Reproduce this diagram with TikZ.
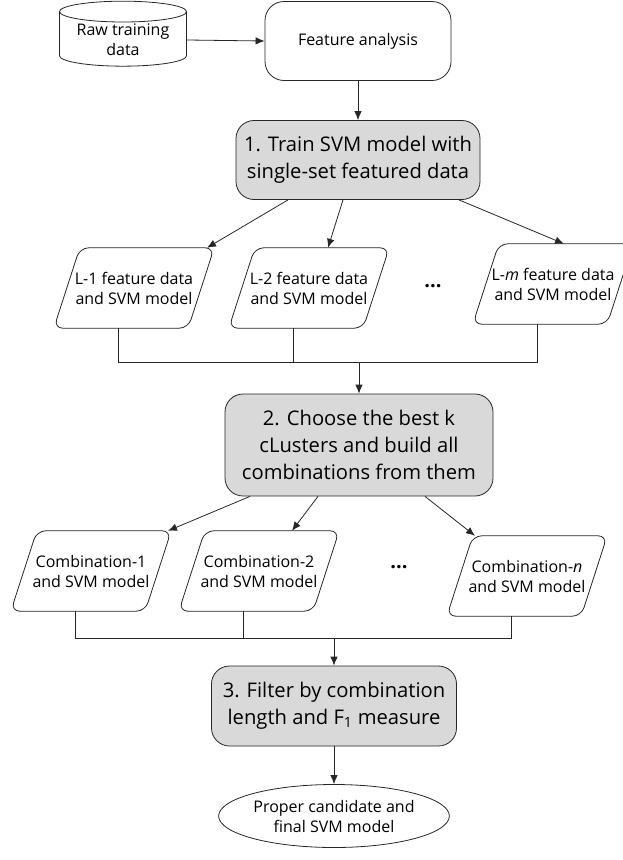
\documentclass[tikz,border=0pt]{standalone}
\usepackage{fontspec}
\setmainfont{Open Sans}
\usepackage{tikz}
\usetikzlibrary{calc}
\usetikzlibrary{arrows.meta}
\usetikzlibrary{shapes.geometric}
\tikzset{
  base/.style={draw=black!85, line width=0.8pt, align=center, inner sep=1pt, font=\fontsize{16}{20}\selectfont},
  store/.style={base, cylinder, shape border rotate=90, aspect=0.22, minimum width=127pt, minimum height=65pt},
  roundbox/.style={base, rectangle, rounded corners=19pt, minimum width=186pt, minimum height=79pt},
  stepbox/.style={base, rectangle, rounded corners=18pt, fill=gray!30, font=\fontsize{20.2}{27}\selectfont},
  databox/.style={align=center, inner sep=0pt, font=\fontsize{16}{20}\selectfont, minimum width=134pt, minimum height=80pt},
  finalbox/.style={base, ellipse, minimum width=215pt, minimum height=63pt},
  dotsnode/.style={font=\bfseries\fontsize{20}{20}\selectfont},
  link/.style={draw=black!85, line width=0.8pt}
}

\begin{document}
\begin{tikzpicture}[x=1pt, y=-1pt, >={Latex[length=9pt,width=7.5pt]}]
  \useasboundingbox (0,0) rectangle (623,860);
  \node [store] (raw) at (123,40) {Raw training\\data};
  \node [roundbox] (feat) at (358,41) {Feature analysis};
  \node [stepbox, minimum width=244pt, minimum height=79pt] (train) at (358,160) {1. Train SVM model with\\single-set featured data};
  \node [databox] (l1) at (134,288) {L-1 feature data\\and SVM model};
  \node [databox] (l2) at (309,288) {L-2 feature data\\and SVM model};
  \node [dotsnode] (dotsa) at (433,286) {...};
  \node [databox] (lm) at (553,284) {L-\textit{m} feature data\\and SVM model};
  \node [stepbox, minimum width=268pt, minimum height=102pt] (choose) at (359,445) {2. Choose the best k\\cLusters and build all\\combinations from them};
  \node [databox] (c1) at (91,571) {Combination-1\\and SVM model};
  \node [databox] (c2) at (259,571) {Combination-2\\and SVM model};
  \node [dotsnode] (dotsb) at (399,567) {...};
  \node [databox] (cn) at (527,576) {Combination-\textit{n}\\and SVM model};
  \node [stepbox, minimum width=245pt, minimum height=80pt] (filter) at (334,706) {3. Filter by combination\\length and F\textsubscript{1} measure};
  \node [finalbox] (final) at (334,816) {Proper candidate and\\final SVM model};

  \foreach \n in {l1,l2,lm,c1,c2,cn}
    \draw [link, rounded corners=9pt] ($(\n.south west)+(-13,0)$) -- ($(\n.north west)+(13,0)$) -- ($(\n.north east)+(13,0)$) -- ($(\n.south east)+(-13,0)$) -- cycle;

  \draw [link, ->] (raw.east) -- (feat.west);
  \draw [link, ->] (feat) -- (train);
  \draw [link, ->] ($(train.south)+(-70,0)$) -- ($(l1.north)+(73,0)$);
  \draw [link, ->] ($(train.south)+(-15,0)$) -- ($(l2.north)+(19,0)$);
  \draw [link, ->] ($(train.south)+(101,0)$) -- ($(lm.north)+(11,0)$);

  \coordinate (joina) at (choose.north |- 0,362);
  \draw [link] ($(l1.south)+(-16,0)$) |- (joina);
  \draw [link] ($(l2.south)+(-16,0)$) |- (joina);
  \draw [link] ($(lm.south)+(-16,0)$) |- (joina);
  \draw [link, ->] (joina) -- (choose.north);

  \draw [link, ->] ($(choose.south)+(-109,0)$) -- ($(c1.north)+(77,0)$);
  \draw [link, ->] ($(choose.south)+(-41,0)$) -- ($(c2.north)+(33,0)$);
  \draw [link, ->] ($(choose.south)+(66,0)$) -- ($(cn.north)+(-52,0)$);

  \coordinate (joinb) at (filter.north |- 0,638);
  \draw [link] ($(c1.south)+(-16,0)$) |- (joinb);
  \draw [link] ($(c2.south)+(-16,0)$) |- (joinb);
  \draw [link] ($(cn.south)+(-16,0)$) |- (joinb);
  \draw [link, ->] (joinb) -- (filter.north);
  \draw [link, ->] (filter) -- (final);
\end{tikzpicture}
\end{document}
